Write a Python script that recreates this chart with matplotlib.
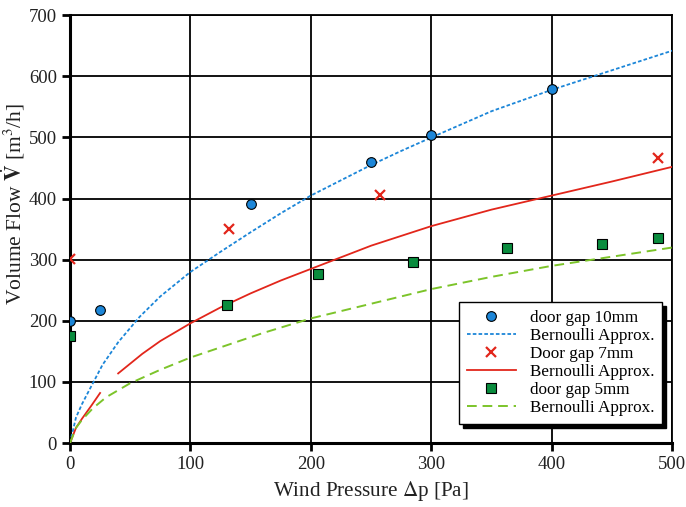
import matplotlib
matplotlib.use("Agg")
import matplotlib.pyplot as plt

plt.rcParams["font.family"] = ["Liberation Serif", "DejaVu Serif"]
plt.rcParams["mathtext.fontset"] = "stix"

# measured points
p_10mm = [0, 25, 150, 250, 300, 400]
v_10mm = [200, 217, 391, 460, 504, 580]
p_7mm = [0, 132, 257, 488]
v_7mm = [302, 350, 406, 467]
p_5mm = [0, 130, 206, 285, 363, 442, 488]
v_5mm = [175, 226, 276, 296, 320, 326, 336]

# Bernoulli approximation curves
bp_10mm = [0, 5, 10, 19, 27, 40, 58, 75, 100, 125, 150, 175, 200, 225,
           250, 275, 300, 350, 400, 450, 500]
bv_10mm = [0, 42, 64, 98, 128, 165, 207, 240, 280, 313, 345, 376, 405, 430,
           455, 478, 500, 543, 578, 610, 642]
bp_7mm_a = [0, 5, 10, 18, 25]
bv_7mm_a = [0, 25, 40, 62, 82]
bp_7mm_b = [40, 60, 75, 100, 125, 150, 175, 200, 250, 300, 350, 400, 450, 500]
bv_7mm_b = [114, 146, 167, 196, 222, 245, 266, 285, 323, 355, 382, 405, 428, 452]
bp_5mm = [0, 5, 10, 19, 30, 50, 75, 100, 130, 160, 200, 250, 300, 350, 400, 450, 500]
bv_5mm = [0, 25, 38, 57, 75, 98, 120, 140, 160, 180, 204, 228, 252, 272, 290, 305, 320]

BLUE = "#1c86d8"
RED = "#e2261b"
GREEN = "#0a8c3e"
LIME = "#7cc42a"
TEXT = "#222222"

fig = plt.figure(figsize=(6.86, 5.07), dpi=100)
ax = fig.add_axes([0.102, 0.126, 0.878, 0.844])

ax.plot(p_10mm, v_10mm, "o", color=BLUE, mec="black", mew=0.8, ms=7,
        label="door gap 10mm", zorder=5)
ax.plot(bp_10mm, bv_10mm, ls=(0, (2, 1.2)), color=BLUE, lw=1.3,
        label="Bernoulli Approx.", zorder=4)
ax.plot(p_7mm, v_7mm, "x", color=RED, mew=1.6, ms=7,
        label="Door gap 7mm", zorder=5)
ax.plot(bp_7mm_b, bv_7mm_b, "-", color=RED, lw=1.3,
        label="Bernoulli Approx.", zorder=4)
ax.plot(bp_7mm_a, bv_7mm_a, "-", color=RED, lw=1.3, zorder=4)
ax.plot(p_5mm, v_5mm, "s", color=GREEN, mec="black", mew=0.8, ms=7.5,
        label="door gap 5mm", zorder=5)
ax.plot(bp_5mm, bv_5mm, ls=(0, (5, 3)), color=LIME, lw=1.4,
        label="Bernoulli Approx.", zorder=4)

ax.set_xlim(0, 500)
ax.set_ylim(0, 700)
ax.set_xticks(range(0, 501, 100))
ax.set_yticks(range(0, 701, 100))
ax.grid(True, color="black", lw=1.3)
ax.set_axisbelow(True)

for side in ("top", "right"):
    ax.spines[side].set_linewidth(1.3)
for side in ("left", "bottom"):
    ax.spines[side].set_linewidth(2.2)
ax.tick_params(direction="out", length=6, width=2, labelsize=13.5,
               colors="black", labelcolor=TEXT)

ax.set_xlabel(r"Wind Pressure $\Delta$p [Pa]", fontsize=15.2, color=TEXT)
ax.set_ylabel(r"Volume Flow $\dot{\mathbf{V}}$ [m$^3$/h]", fontsize=15.5,
              color=TEXT)
ax.yaxis.set_label_coords(-0.072, 0.56)

leg = ax.legend(loc="lower right", bbox_to_anchor=(0.983, 0.045),
                fontsize=12.3, frameon=True, fancybox=False,
                shadow={"color": "black", "alpha": 1, "ox": 3, "oy": -3},
                edgecolor="black", framealpha=1, labelspacing=0.12,
                borderpad=0.45, handlelength=2.9, handletextpad=0.8,
                borderaxespad=0)
leg.get_frame().set_linewidth(1)
leg.set_zorder(10)

fig.savefig("out.png", dpi=100)
